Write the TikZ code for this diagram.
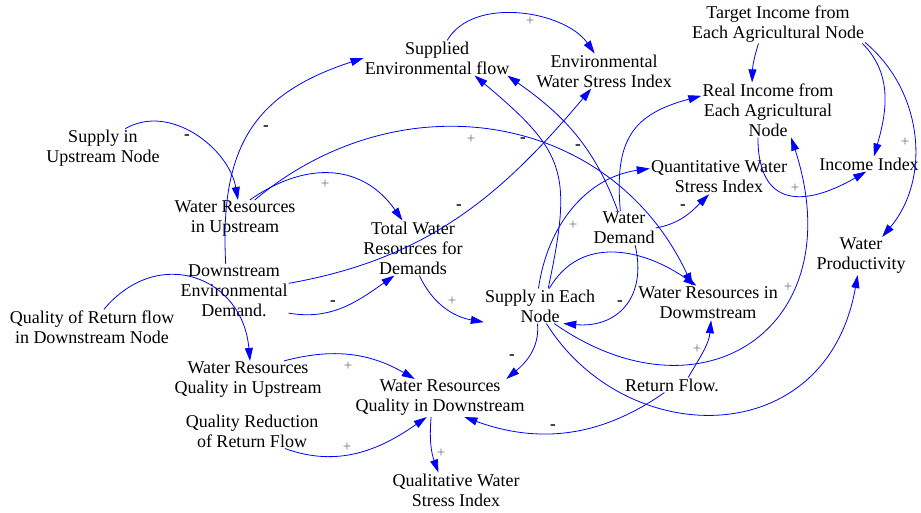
\documentclass[tikz,border=0pt]{standalone}
\usepackage{fontspec}
\setmainfont{Liberation Serif}
\usetikzlibrary{arrows.meta}
\tikzset{
  var/.style={align=center, inner sep=1pt, font=\fontsize{18}{20}\selectfont},
  link/.style={draw=blue, line width=0.8pt, -{Triangle[length=13pt,width=8pt]}},
  poslab/.style={text=black!55, inner sep=0pt, font=\fontsize{15}{15}\selectfont},
  neglab/.style={inner sep=0pt, font=\fontsize{17}{17}\selectfont\bfseries},
}
\begin{document}
\begin{tikzpicture}[x=1pt,y=1pt]
\useasboundingbox (0,0) rectangle (921,-512);
% variables
\node[var] (supenv)    at (437,-58)  {Supplied\\Environmental flow};
\node[var] (ewsi)      at (604,-71)  {Environmental\\Water Stress Index};
\node[var] (target)    at (778,-24)  {Target Income from\\Each Agricultural Node};
\node[var] (realinc)   at (768,-110) {Real Income from\\Each Agricultural\\Node};
\node[var] (incidx)    at (869,-164) {Income Index};
\node[var] (quantwsi)  at (719,-177) {Quantitative Water\\Stress Index};
\node[var] (waterprod) at (861,-256) {Water\\Productivity};
\node[var] (demand)    at (624,-228) {Water\\Demand};
\node[var] (supup)     at (103,-148) {Supply in\\Upstream Node};
\node[var] (wrup)      at (235,-219) {Water Resources\\in Upstream};
\node[var] (totalwr)   at (413,-248) {Total Water\\Resources for\\Demands};
\node[var] (downenv)   at (234,-291) {Downstream\\Environmental\\Demand.};
\node[var] (qualret)   at (92,-327)  {Quality of Return flow\\in Downstream Node};
\node[var] (supeach)   at (540,-306) {Supply in Each\\Node};
\node[var] (wrdown)    at (708,-303) {Water Resources in\\Dowmstream};
\node[var] (wrqup)     at (248,-380) {Water Resources\\Quality in Upstream};
\node[var] (wrqdown)   at (440,-398) {Water Resources\\Quality in Downstream};
\node[var] (qualred)   at (252,-431) {Quality Reduction\\of Return Flow};
\node[var] (retflow)   at (672,-385) {Return Flow.};
\node[var] (qualwsi)   at (456,-490) {Qualitative Water\\Stress Index};

% causal links
\draw[link] (supup.41) to[out=30,in=100] (wrup.81);
\draw[link] (downenv.107) to[out=93,in=198,looseness=1.2] (supenv.west);
\draw[link] (supenv.60) to[out=60,in=125,looseness=0.9] (ewsi.118);
\draw[link] (wrup.52) to[out=35,in=125,looseness=1.15] (totalwr.111);
\draw[link] (wrup.44) to[out=40,in=115,looseness=1.1] (wrdown.132);
\draw[link] (downenv.8) to[out=10,in=230] (ewsi.234);
\draw[link] (downenv.-22) to[out=-10,in=215] (totalwr.236);
\draw[link] (totalwr.-77) to[out=-65,in=170] (supeach.196);
\draw[link] (qualret.56) to[out=50,in=95,looseness=1.4] (wrqup.84);
\draw[link] (wrqup.28) to[out=15,in=150] (wrqdown.143);
\draw[link] (qualred.-28) to[out=-20,in=215] (wrqdown.235);
\draw[link] (wrqdown.-115) to[out=-95,in=110] (qualwsi.135);
\draw[link] (supeach.-98) to[out=-85,in=40] (wrqdown.16);
\draw[link] (retflow.225) to[out=-145,in=-20] (wrqdown.-38);
\draw[link] (retflow.25) to[out=60,in=-95] (wrdown.-80);
\draw[link] (supeach.-51) to[out=-35,in=-72,out distance=180,in distance=200] (realinc.-50);
\draw[link] (supeach.-70) to[out=-58,in=-100,out distance=150,in distance=180] (waterprod.-100);
\draw[link] (supeach.65) to[out=78,in=-40,looseness=1.35] (supenv.-25);
\draw[link] (demand.110) to[out=110,in=-35] (supenv.-14);
\draw[link] (demand.102) to[out=95,in=195,looseness=1.3] (realinc.168);
\draw[link] (supeach.95) to[out=82,in=188] (quantwsi.173);
\draw[link] (supeach.62) to[out=60,in=145,looseness=1.1] (wrdown.124);
\draw[link] (demand.-57) to[out=-77,in=-5,looseness=1.3] (supeach.-37);
\draw[link] (demand.east) to[out=10,in=225] (quantwsi.240);
\draw[link] (target.225) to[out=-108,in=88] (realinc.120);
\draw[link] (target.-13) to[out=-45,in=74] (incidx.57);
\draw[link] (target.-12) to[out=-40,in=50] (waterprod.42);
\draw[link] (realinc.-110) to[out=-90,in=210,looseness=1.6] (incidx.-110);

% polarities
\node[neglab] (n1)  at (187,-137) {-};
\node[neglab] (n2)  at (266,-128) {-};
\node[neglab] (n3)  at (523,-140) {-};
\node[neglab] (n4)  at (578,-147) {-};
\node[neglab] (n5)  at (459,-207) {-};
\node[neglab] (n6)  at (683,-207) {-};
\node[neglab] (n7)  at (333,-303) {-};
\node[neglab] (n8)  at (620,-303) {-};
\node[neglab] (n9)  at (512,-357) {-};
\node[neglab] (n10) at (553,-427) {-};
\node[poslab] (p1)  at (530,-21)  {+};
\node[poslab] (p2)  at (325,-184) {+};
\node[poslab] (p3)  at (471,-139) {+};
\node[poslab] (p4)  at (573,-225) {+};
\node[poslab] (p5)  at (795,-188) {+};
\node[poslab] (p6)  at (905,-142) {+};
\node[poslab] (p7)  at (452,-301) {+};
\node[poslab] (p8)  at (788,-287) {+};
\node[poslab] (p9)  at (697,-349) {+};
\node[poslab] (p10) at (348,-366) {+};
\node[poslab] (p11) at (347,-447) {+};
\node[poslab] (p12) at (441,-453) {+};
\end{tikzpicture}
\end{document}
